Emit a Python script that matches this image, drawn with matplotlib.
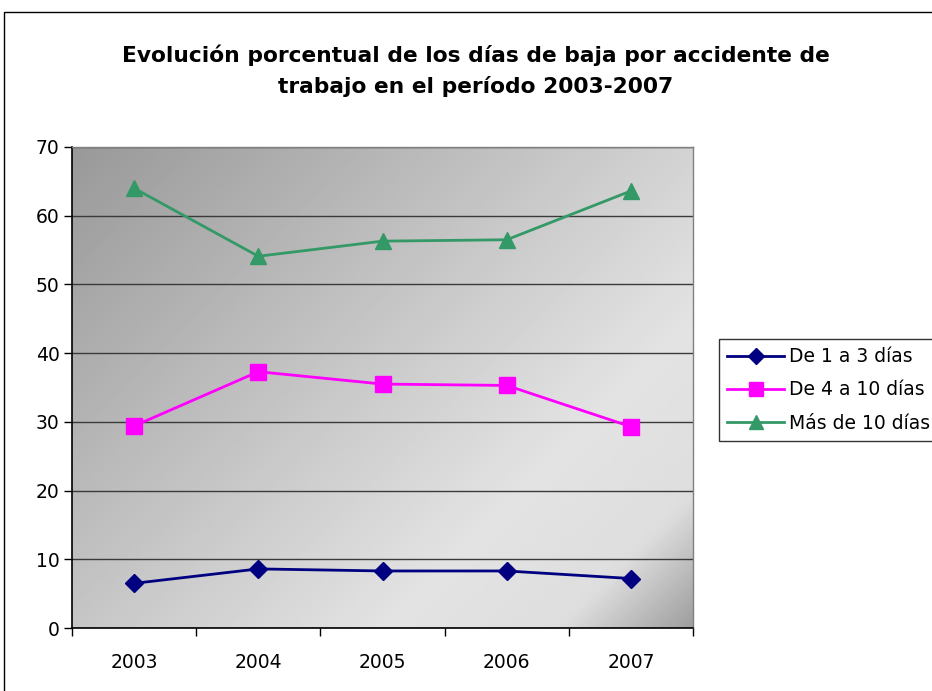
import numpy as np
import matplotlib
matplotlib.use("Agg")
import matplotlib.pyplot as plt
from matplotlib.patches import Rectangle

# data
years = ["2003", "2004", "2005", "2006", "2007"]
de_1_a_3 = [6.5, 8.6, 8.3, 8.3, 7.2]
de_4_a_10 = [29.4, 37.3, 35.5, 35.3, 29.3]
mas_de_10 = [64.0, 54.1, 56.3, 56.5, 63.6]

series_labels = ["De 1 a 3 días", "De 4 a 10 días", "Más de 10 días"]
title = "Evolución porcentual de los días de baja por accidente de\ntrabajo en el período 2003-2007"

plt.rcParams["font.family"] = ["DejaVu Sans"]

fig = plt.figure(figsize=(9.32, 6.91), dpi=100)
W, H = 932, 691

# outer chart frame (cropped on the right and bottom in the reference)
fig.patches.append(Rectangle((4 / W, -0.05), 1.1, 1 - 12 / H + 0.05,
                             transform=fig.transFigure, fill=False,
                             edgecolor="black", linewidth=1.0))

ax = fig.add_axes([72 / W, 1 - 628 / H, (693 - 72) / W, (628 - 147) / H])

# diagonal grey gradient background of the plot area
ny, nx = 200, 260
gx = np.linspace(0, 1, nx)[None, :]
gy = np.linspace(0, 1, ny)[:, None]
d = (gx * 621 + gy * 481) / (621 + 481)
shade = np.interp(d, [0.0, 0.72, 0.88, 1.0], [0.60, 0.89, 0.87, 0.62])
ax.imshow(shade, cmap="gray", vmin=0, vmax=1, aspect="auto",
          extent=[-0.5, 4.5, 0, 70], origin="upper", zorder=0)

x = np.arange(len(years))
ax.plot(x, de_1_a_3, color="#000080", linewidth=2, marker="D", markersize=9,
        label=series_labels[0], zorder=3)
ax.plot(x, de_4_a_10, color="#FF00FF", linewidth=2, marker="s", markersize=11,
        label=series_labels[1], zorder=3)
ax.plot(x, mas_de_10, color="#339966", linewidth=2, marker="^", markersize=11,
        label=series_labels[2], zorder=3)

ax.set_xlim(-0.5, 4.5)
ax.set_ylim(0, 70)
ax.set_yticks(range(0, 71, 10))
ax.yaxis.grid(True, color="#3a3a3a", linewidth=1)
ax.set_xticks(x)
ax.set_xticklabels(years)
ax.set_xticks(np.arange(-0.5, 4.6, 1), minor=True)
ax.tick_params(axis="x", which="major", length=0, pad=18, labelsize=13.5)
ax.tick_params(axis="x", which="minor", length=6, width=1, color="black")
ax.tick_params(axis="y", length=6, width=1, labelsize=13.5, pad=3)
for side in ["left", "bottom"]:
    ax.spines[side].set_color("black")
    ax.spines[side].set_linewidth(1.2)
for side in ["top", "right"]:
    ax.spines[side].set_color("#808080")
    ax.spines[side].set_linewidth(1.0)
for gl in ax.get_ygridlines():
    gl.set_zorder(1)

fig.text(476 / W, 1 - 71 / H, title, ha="center", va="center",
         fontsize=15.7, fontweight="bold", linespacing=1.6)

leg = fig.legend(loc="upper left", bbox_to_anchor=(719 / W, 1 - 339 / H),
                 frameon=True, fancybox=False, fontsize=13.5,
                 handlelength=3.0, handletextpad=0.3, borderpad=0.45,
                 labelspacing=0.75, borderaxespad=0, markerscale=0.9)
leg.get_frame().set_edgecolor("black")
leg.get_frame().set_linewidth(1.0)

fig.savefig("out.png", dpi=100)
